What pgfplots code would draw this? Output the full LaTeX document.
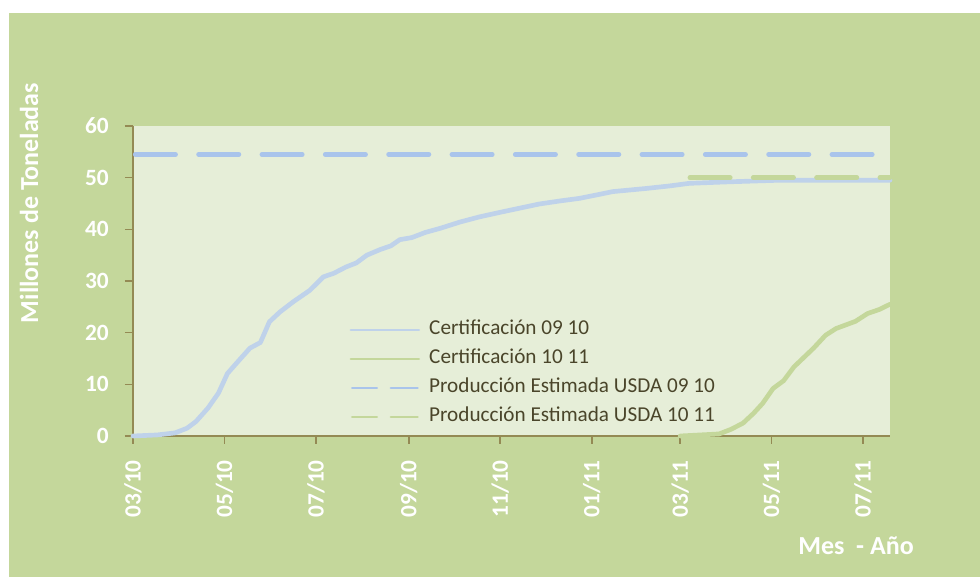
\documentclass[border=0pt]{standalone}
\usepackage{pgfplots}
\pgfplotsset{compat=1.18}
\usepackage{fontspec}
\setmainfont{Carlito}
\definecolor{outerbg}{HTML}{C4D79B}
\definecolor{plotbg}{HTML}{E6EED8}
\definecolor{axcol}{HTML}{948A54}
\definecolor{blueA}{HTML}{BFD2EA}
\definecolor{blueB}{HTML}{A9C4EB}
\definecolor{greenA}{HTML}{C4D79B}
\definecolor{legtext}{HTML}{4A452A}
\pgfplotstableread{
x y
0 0
16 0.2
28 0.6
36 1.5
42 2.8
50 5.4
57 8.3
63 12.1
70 14.4
78 17.0
85 18.1
91 22.1
98 24.0
107 26.0
118 28.2
127 30.8
134 31.5
142 32.7
149 33.5
156 35.0
165 36.1
172 36.8
178 38.0
186 38.4
195 39.4
205 40.2
218 41.4
231 42.4
245 43.3
258 44.1
271 44.9
285 45.5
298 46.0
310 46.7
320 47.3
342 47.9
358 48.4
371 48.9
398 49.2
431 49.5
505 49.5
}\certA
\pgfplotstableread{
x y
365 0
391 0.4
399 1.3
407 2.5
414 4.4
420 6.3
427 9.2
434 10.7
441 13.4
454 17.0
462 19.5
469 20.8
482 22.2
490 23.7
498 24.5
505 25.5
}\certB
\begin{document}
\begin{tikzpicture}
\path[use as bounding box] (-99.75pt,-105.75pt) rectangle (635.25pt,327pt);
\fill[white] (-99.75pt,-105.75pt) rectangle (635.25pt,327pt);
\fill[outerbg] (-93pt,-105.75pt) rectangle (635.25pt,317.25pt);
\begin{axis}[
  at={(0pt,0pt)}, anchor=south west,
  scale only axis, width=567.75pt, height=232.5pt,
  xmin=0, xmax=505, ymin=0, ymax=60,
  clip=false,
  axis background/.style={fill=plotbg},
  axis x line*=bottom, axis y line*=left,
  axis line style={draw=axcol, line width=1.2pt},
  every tick/.style={draw=axcol, line width=1.2pt},
  tick align=outside, major tick length=6pt,
  ytick={0,10,...,60},
  xtick={0,61,122,184,245,306,365,426,487},
  xticklabels={03/10,05/10,07/10,09/10,11/10,01/11,03/11,05/11,07/11},
  /pgf/number format/assume math mode=true,
  tick label style={text=white, font=\fontsize{17.5pt}{19pt}\selectfont\bfseries},
  yticklabel style={anchor=east, inner sep=0pt, xshift=-12pt},
  xticklabel style={rotate=90, anchor=east, inner sep=0pt, yshift=0pt, xshift=-12pt},
  legend cell align=left,
  legend style={draw=none, fill=none, at={(0.2857,0.373)}, anchor=north west,
    inner sep=0pt, row sep=7.75pt,
    font=\fontsize{15.9pt}{18pt}\selectfont, text=legtext,
    nodes={inner sep=0pt, text height=10.5pt, text depth=3.5pt},
    /tikz/every odd column/.append style={column sep=6.75pt}},
]
\addplot[blueA, line width=3.5pt, line cap=round, line join=round,
  legend image code/.code={\draw[blueA, line width=2pt] (0pt,0pt) -- (51pt,0pt);}]
  table[x=x,y=y] {\certA};
\addlegendentry{Certificación 09 10}
\addplot[greenA, line width=3.5pt, line cap=round, line join=round,
  legend image code/.code={\draw[greenA, line width=2pt] (0pt,0pt) -- (51pt,0pt);}]
  table[x=x,y=y] {\certB};
\addlegendentry{Certificación 10 11}
\addplot[blueB, line width=3.5pt, line cap=round, dash pattern=on 30.25pt off 17.25pt,
  legend image code/.code={\draw[blueB, line width=2pt, line cap=round] (1pt,0pt) -- (19.5pt,0pt) (30pt,0pt) -- (50pt,0pt);}]
  coordinates {(1.5,54.5) (505,54.5)};
\addlegendentry{Producción Estimada USDA 09 10}
\addplot[greenA, line width=3.5pt, line cap=round, dash pattern=on 30.25pt off 17.25pt,
  legend image code/.code={\draw[greenA, line width=2pt, line cap=round] (1pt,0pt) -- (19.5pt,0pt) (30pt,0pt) -- (50pt,0pt);}]
  coordinates {(371.5,50) (505,50)};
\addlegendentry{Producción Estimada USDA 10 11}
\end{axis}
\node[rotate=90, text=white, font=\fontsize{19.5pt}{21pt}\selectfont\bfseries] at (-78pt,174.75pt) {Millones de Toneladas};
\node[text=white, font=\fontsize{19.5pt}{21pt}\selectfont\bfseries] at (542.25pt,-82.5pt) {Mes\ \ - Año};
\end{tikzpicture}
\end{document}
